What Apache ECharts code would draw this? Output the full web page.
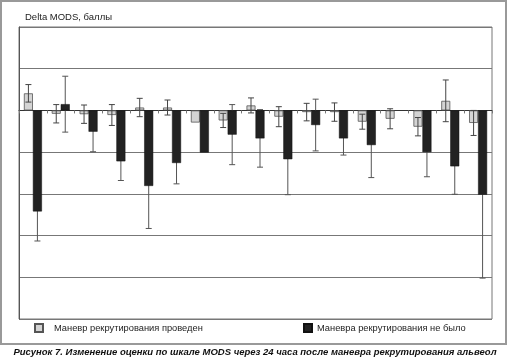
<!DOCTYPE html>
<html>
<head>
<meta charset="utf-8">
<script src="https://cdn.jsdelivr.net/npm/echarts@6/dist/echarts.min.js"></script>
<style>html,body{margin:0;padding:0;background:#fff}#c{width:510px;height:362px}</style>
</head>
<body>
<div id="c"></div>
<script>
const categories = ['1','2','3','4','5','6','7','8','9','10','11','12','13','14','15','16','17'];
const seriesNames = ['Маневр рекрутирования проведен', 'Маневра рекрутирования не было'];
const grayValues  = [0.41, -0.08, -0.09, -0.11, 0.07, 0.07, -0.29, -0.24, 0.12, -0.15, -0.04, -0.04, -0.27, -0.20, -0.39, 0.23, -0.30];
const grayErr     = [0.21, 0.22, 0.22, 0.25, 0.22, 0.18, null, 0.17, 0.18, 0.24, 0.21, 0.22, 0.18, 0.24, 0.22, 0.50, 0.30];
const blackValues = [-2.42, 0.15, -0.51, -1.22, -1.81, -1.26, -1.01, -0.58, -0.67, -1.17, -0.35, -0.67, -0.83, null, -1.00, -1.34, -2.02];
const blackErr    = [0.71, 0.67, 0.48, 0.46, 1.02, 0.50, null, 0.72, 0.69, 0.85, 0.62, 0.40, 0.78, null, 0.59, 0.67, 2.00];
const yMin = -5, yMax = 2, yInterval = 1;
const yTitle = 'Delta MODS, баллы';
const caption = 'Рисунок 7. Изменение оценки по шкале MODS через 24 часа после маневра рекрутирования альвеол';

const FONT = 'Liberation Sans, Arial, sans-serif';

function errRender(offset, color) {
  return function (params, api) {
    const i = api.value(0), v = api.value(1), e = api.value(2);
    const hi = api.coord([i, v + e]);
    const lo = api.coord([i, v - e]);
    const x = hi[0] + offset;
    const cap = 3;
    const st = { stroke: color, lineWidth: 1 };
    return {
      type: 'group',
      children: [
        { type: 'line', shape: { x1: x, y1: hi[1], x2: x, y2: lo[1] }, style: st },
        { type: 'line', shape: { x1: x - cap, y1: hi[1], x2: x + cap, y2: hi[1] }, style: st },
        { type: 'line', shape: { x1: x - cap, y1: lo[1], x2: x + cap, y2: lo[1] }, style: st }
      ]
    };
  };
}
function errData(vals, errs) {
  const out = [];
  categories.forEach((c, i) => {
    if (vals[i] != null && errs[i] != null) out.push([i, vals[i], errs[i]]);
  });
  return out;
}

const chart = echarts.init(document.getElementById('c'), null, { renderer: 'canvas' });
chart.setOption({
  animation: false,
  backgroundColor: '#fff',
  textStyle: { fontFamily: FONT },
  title: [
    { text: yTitle, left: 25, top: 12, padding: 0, textStyle: { fontSize: 9.5, fontWeight: 'normal', color: '#222', fontFamily: FONT } },
    { text: caption, left: 'center', top: 347, padding: 0, textStyle: { fontSize: 9.5, fontWeight: 'bold', fontStyle: 'italic', color: '#111', fontFamily: FONT } }
  ],
  graphic: [
    { type: 'rect', shape: { x: 1, y: 1, width: 505, height: 343 }, style: { fill: 'none', stroke: '#999', lineWidth: 2 }, silent: true }
  ],
  legend: [
    { data: [seriesNames[0]], left: 34, top: 323, padding: 0, icon: 'rect', itemWidth: 8, itemHeight: 8,
      textStyle: { fontSize: 9.3, color: '#222', padding: [0, 0, 0, 6], fontFamily: FONT } },
    { data: [seriesNames[1]], left: 303, top: 323, padding: 0, icon: 'rect', itemWidth: 8, itemHeight: 8,
      textStyle: { fontSize: 9.3, color: '#222', fontFamily: FONT } }
  ],
  grid: { left: 19, right: 18, top: 27, bottom: 43, show: true, borderColor: '#777', borderWidth: 1 },
  xAxis: {
    type: 'category',
    data: categories,
    axisLine: { onZero: true, lineStyle: { color: '#333', width: 1 } },
    axisTick: { show: true, length: 3, lineStyle: { color: '#777' } },
    axisLabel: { show: false },
    splitLine: { show: false }
  },
  yAxis: {
    type: 'value',
    min: yMin, max: yMax, interval: yInterval,
    axisLine: { show: true, lineStyle: { color: '#555' } },
    axisTick: { show: false },
    axisLabel: { show: false },
    splitLine: { show: true, lineStyle: { color: '#777', width: 1 } }
  },
  series: [
    { name: seriesNames[0], type: 'bar', data: grayValues, barWidth: 9, barGap: '0%', z: 2,
      itemStyle: { color: '#d4d4d4', borderColor: '#555', borderWidth: 0.8 } },
    { name: seriesNames[1], type: 'bar', data: blackValues, barWidth: 9, barGap: '0%', z: 2,
      itemStyle: { color: '#222', borderColor: '#111', borderWidth: 0.5 } },
    { name: 'errGray', type: 'custom', renderItem: errRender(-4.5, '#444'), data: errData(grayValues, grayErr), z: 3 },
    { name: 'errBlack', type: 'custom', renderItem: errRender(4.5, '#555'), data: errData(blackValues, blackErr), z: 1 }
  ]
});
</script>
</body>
</html>
